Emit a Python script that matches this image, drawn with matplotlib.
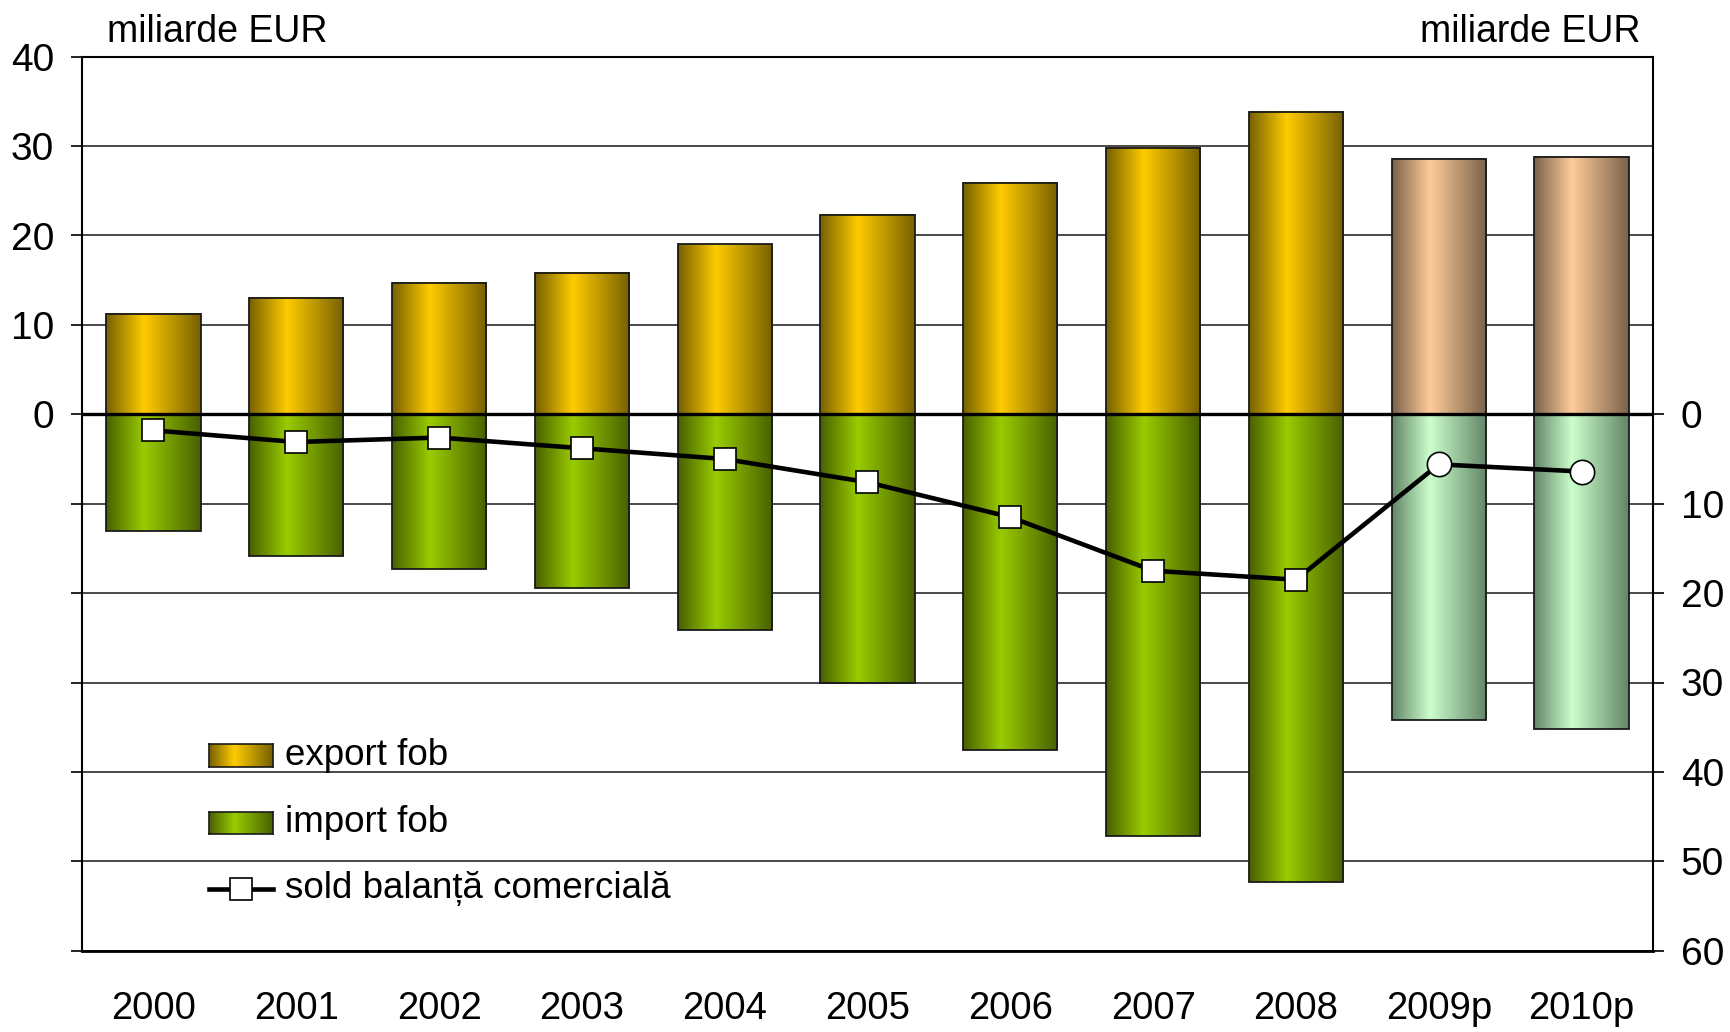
import numpy as np
import matplotlib
matplotlib.use("Agg")
import matplotlib.pyplot as plt
from matplotlib.colors import LinearSegmentedColormap
from matplotlib.lines import Line2D

# Romania trade balance, EUR billions
years = ["2000", "2001", "2002", "2003", "2004", "2005", "2006", "2007", "2008", "2009p", "2010p"]
export_fob = [11.2, 13.0, 14.7, 15.8, 19.0, 22.3, 25.9, 29.8, 33.8, 28.6, 28.8]
import_fob = [-13.0, -15.8, -17.3, -19.4, -24.1, -30.0, -37.5, -47.2, -52.3, -34.2, -35.2]
sold_balanta = [-1.8, -3.1, -2.6, -3.8, -5.0, -7.6, -11.5, -17.5, -18.5, -5.6, -6.4]
is_forecast = [False] * 9 + [True] * 2

left_tick_values = [40, 30, 20, 10, 0]
right_tick_values = [0, 10, 20, 30, 40, 50, 60]

plt.rcParams['font.family'] = ['Liberation Sans', 'DejaVu Sans']

W, H = 1730, 1032
fig = plt.figure(figsize=(W / 100, H / 100), dpi=100)
ax = fig.add_axes([82 / W, 1 - 950.7 / H, (1653 - 82) / W, (950.7 - 56.7) / H])


def shade(edge, mid):
    return LinearSegmentedColormap.from_list('', [(0, edge), (0.4, mid), (1, edge)])


cm_export = shade('#766000', '#ffcc00')
cm_import = shade('#486000', '#99cc00')
cm_export_p = shade('#7a624b', '#ffcc99')
cm_import_p = shade('#628668', '#ccffcc')
grad = np.linspace(0, 1, 256).reshape(1, -1)
bar_w = 0.66

for i, (e, m, p) in enumerate(zip(export_fob, import_fob, is_forecast)):
    for val, cm in ((e, cm_export_p if p else cm_export), (m, cm_import_p if p else cm_import)):
        ax.imshow(grad, cmap=cm, extent=(i - bar_w / 2, i + bar_w / 2, 0, val),
                  aspect='auto', interpolation='bicubic', zorder=2)
        ax.bar(i, val, bar_w, fill=False, edgecolor='#1a1a1a', linewidth=1.3, zorder=3)

ax.axhline(0, color='black', lw=2.4, zorder=4)

x = np.arange(len(years))
ax.plot(x, sold_balanta, color='black', lw=3.3, zorder=5)
for xi, yi, p in zip(x, sold_balanta, is_forecast):
    ax.plot(xi, yi, marker='o' if p else 's', ms=17.5 if p else 16,
            mfc='white', mec='black', mew=1.2, zorder=6)

ax.set_xlim(-0.5, len(years) - 0.5)
ax.set_ylim(-60, 40)
ax.set_yticks(range(-60, 41, 10))
ax.set_yticklabels([str(v) if v in left_tick_values else '' for v in range(-60, 41, 10)])
ax.yaxis.grid(True, color='#3a3a3a', lw=1.3)
ax.set_axisbelow(True)
ax.tick_params(axis='y', direction='out', length=8, width=1.2, pad=12, labelsize=28)
ax.set_xticks(x)
ax.set_xticklabels(years)
ax.tick_params(axis='x', length=0, pad=29, labelsize=27.5)
for s in ax.spines.values():
    s.set_color('black')
    s.set_linewidth(1.5)
ax.spines['bottom'].set_linewidth(2)

ax2 = ax.twinx()
ax2.set_ylim(-60, 40)
ax2.set_yticks([-v for v in right_tick_values])
ax2.set_yticklabels([str(v) for v in right_tick_values])
ax2.tick_params(axis='y', direction='out', length=8, width=1.2, pad=12, labelsize=28)
for s in ax2.spines.values():
    s.set_visible(False)

fig.text(107 / W, 1 - 32 / H, 'miliarde EUR', fontsize=27, va='center', ha='left')
fig.text(1641 / W, 1 - 32 / H, 'miliarde EUR', fontsize=27, va='center', ha='right')

# legend
for (y0, y1), cm, label in (((744, 767), cm_export, 'export fob'),
                            ((812, 834), cm_import, 'import fob')):
    lax = fig.add_axes([209 / W, 1 - y1 / H, 64 / W, (y1 - y0) / H])
    lax.imshow(grad, cmap=cm, aspect='auto', interpolation='bicubic')
    lax.set_xticks([])
    lax.set_yticks([])
    for s in lax.spines.values():
        s.set_color('#1a1a1a')
        s.set_linewidth(1.2)
    fig.text(285 / W, 1 - (y0 + y1) / 2 / H, label, fontsize=26.5, va='center', ha='left')

ly = 1 - 889 / H
fig.add_artist(Line2D([209 / W, 273 / W], [ly, ly], color='black', lw=3.3, transform=fig.transFigure))
fig.add_artist(Line2D([241 / W], [ly], marker='s', ms=16, mfc='white', mec='black', mew=1.2,
                      transform=fig.transFigure))
fig.text(285 / W, ly, 'sold balanță comercială', fontsize=26.5, va='center', ha='left')

fig.savefig('out.png', dpi=100)
